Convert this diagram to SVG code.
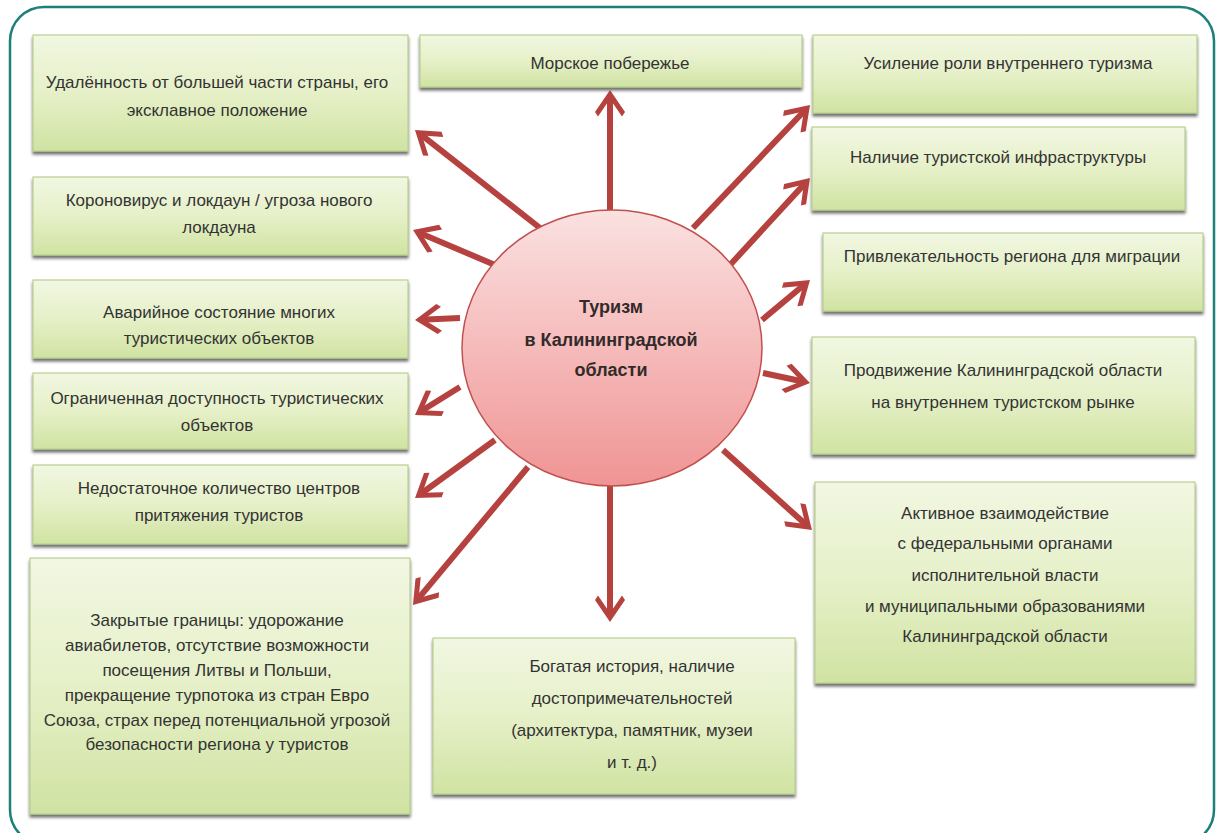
<svg xmlns="http://www.w3.org/2000/svg" width="1217" height="833" viewBox="0 0 1217 833">
<style>
.box{fill:url(#gGreen);stroke:#b9d08f;stroke-width:1.2;filter:url(#shadow)}
.t{font-family:"Liberation Sans",Arial,sans-serif;font-size:17px;fill:#333333;text-anchor:middle}
.ct{font-family:"Liberation Sans",Arial,sans-serif;font-size:18px;font-weight:bold;fill:#332a2a;text-anchor:middle}
.arr{stroke:#b5423f;stroke-width:6;fill:none;marker-end:url(#ah)}
</style>
<defs>
<linearGradient id="gGreen" x1="0" y1="0" x2="0" y2="1">
<stop offset="0" stop-color="#f1f7e2"/>
<stop offset="0.5" stop-color="#e6f0c8"/>
<stop offset="1" stop-color="#d0e3a2"/>
</linearGradient>
<linearGradient id="gRed" x1="0" y1="0" x2="0" y2="1">
<stop offset="0" stop-color="#fbe1e1"/>
<stop offset="1" stop-color="#f09494"/>
</linearGradient>
<filter id="shadow" x="-5%" y="-5%" width="110%" height="120%">
<feDropShadow dx="0" dy="3" stdDeviation="1.5" flood-color="#404040" flood-opacity="0.75"/>
</filter>
<marker id="ah" markerUnits="userSpaceOnUse" orient="auto" refX="0" refY="0" markerWidth="40" markerHeight="40" overflow="visible">
<polygon points="6,0 -16,-15 -20.5,-12 -3,0 -20.5,12 -16,15" fill="#b5423f"/>
</marker>
</defs>
<rect x="0" y="0" width="1217" height="833" fill="#ffffff"/>
<rect id="frame" x="10" y="7" width="1204" height="837" rx="34" ry="34" fill="none" stroke="#1b7f7a" stroke-width="2.5"/>

<g id="connectors">
<path class="arr" d="M610,212 L610,96"/>
<path class="arr" d="M540,228 L419.7,133.7"/>
<path class="arr" d="M495,265 L418.5,232.4"/>
<path class="arr" d="M460,318 L421,319.7"/>
<path class="arr" d="M460,387 L420.1,411.8"/>
<path class="arr" d="M495,440 L419.9,494.5"/>
<path class="arr" d="M528,467 L416.8,600.4"/>
<path class="arr" d="M610,485 L610,616"/>
<path class="arr" d="M723,450 L807.5,526"/>
<path class="arr" d="M763,373 L804.1,381.8"/>
<path class="arr" d="M762,320 L805.4,283.8"/>
<path class="arr" d="M730,265 L805.9,182.4"/>
<path class="arr" d="M693,228 L805.9,109.3"/>
</g>

<g id="center">
<ellipse cx="612" cy="348" rx="150" ry="138" fill="url(#gRed)" stroke="#c0504d" stroke-width="1.5"/>
<text class="ct" x="611" y="313">Туризм</text>
<text class="ct" x="611" y="346">в Калининградской</text>
<text class="ct" x="611" y="376">области</text>
</g>

<g id="L1"><rect class="box" x="33" y="35" width="375" height="116"/>
<text class="t" x="217" y="88">Удалённость от большей части страны, его</text>
<text class="t" x="217" y="116">эксклавное положение</text></g>

<g id="L2"><rect class="box" x="33" y="177" width="375" height="78"/>
<text class="t" x="219" y="206">Короновирус и локдаун / угроза нового</text>
<text class="t" x="219" y="233">локдауна</text></g>

<g id="L3"><rect class="box" x="33" y="280" width="375" height="78"/>
<text class="t" x="219" y="318">Аварийное состояние многих</text>
<text class="t" x="219" y="344">туристических объектов</text></g>

<g id="L4"><rect class="box" x="33" y="373" width="375" height="76"/>
<text class="t" x="217" y="404">Ограниченная доступность туристических</text>
<text class="t" x="217" y="431">объектов</text></g>

<g id="L5"><rect class="box" x="33" y="465" width="375" height="79"/>
<text class="t" x="219" y="494">Недостаточное количество центров</text>
<text class="t" x="219" y="521">притяжения туристов</text></g>

<g id="L6"><rect class="box" x="30" y="558" width="380" height="256"/>
<text class="t" x="217" y="626">Закрытые границы: удорожание</text>
<text class="t" x="217" y="651">авиабилетов, отсутствие возможности</text>
<text class="t" x="217" y="676">посещения Литвы и Польши,</text>
<text class="t" x="217" y="701">прекращение турпотока из стран Евро</text>
<text class="t" x="217" y="726">Союза, страх перед потенциальной угрозой</text>
<text class="t" x="217" y="750">безопасности региона у туристов</text></g>

<g id="T"><rect class="box" x="420" y="35" width="382" height="52"/>
<text class="t" x="610" y="69">Морское побережье</text></g>

<g id="B"><rect class="box" x="433" y="638" width="362" height="156"/>
<text class="t" x="632" y="672">Богатая история, наличие</text>
<text class="t" x="632" y="704">достопримечательностей</text>
<text class="t" x="632" y="736">(архитектура, памятник, музеи</text>
<text class="t" x="632" y="768">и т. д.)</text></g>

<g id="R1"><rect class="box" x="813" y="35" width="384" height="78"/>
<text class="t" x="1008" y="69">Усиление роли внутреннего туризма</text></g>

<g id="R2"><rect class="box" x="812" y="127" width="373" height="83"/>
<text class="t" x="998" y="163">Наличие туристской инфраструктуры</text></g>

<g id="R3"><rect class="box" x="823" y="233" width="380" height="78"/>
<text class="t" x="1012" y="262">Привлекательность региона для миграции</text></g>

<g id="R4"><rect class="box" x="812" y="337" width="383" height="117"/>
<text class="t" x="1003" y="376">Продвижение Калининградской области</text>
<text class="t" x="1003" y="408">на внутреннем туристском рынке</text></g>

<g id="R5"><rect class="box" x="815" y="482" width="380" height="201"/>
<text class="t" x="1005" y="519">Активное взаимодействие</text>
<text class="t" x="1005" y="549">с федеральными органами</text>
<text class="t" x="1005" y="581">исполнительной власти</text>
<text class="t" x="1005" y="612">и муниципальными образованиями</text>
<text class="t" x="1005" y="642">Калининградской области</text></g>
</svg>
